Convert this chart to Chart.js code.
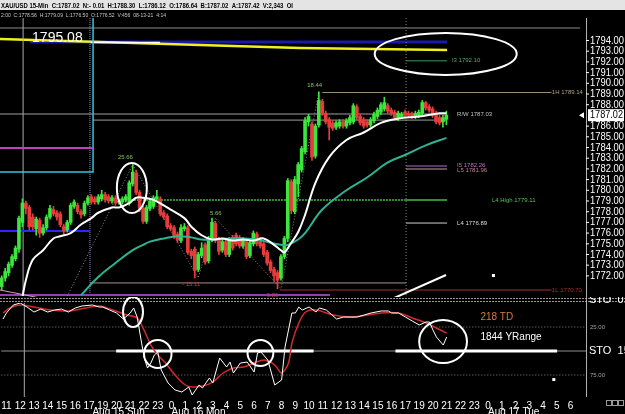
<!DOCTYPE html>
<html>
<head>
<meta charset="utf-8">
<title>XAU/USD 15-Min</title>
<script src="https://cdn.jsdelivr.net/npm/chart.js@4.4.1/dist/chart.umd.min.js"></script>
<style>
  html, body { margin: 0; padding: 0; background: #000; overflow: hidden; }
  #wrap { position: relative; width: 625px; height: 414px; background: #000; }
  #priceChart { position: absolute; left: 0; top: 0; }
  #stoChart { position: absolute; left: 0; top: 297px; }
</style>
</head>
<body>
<div id="wrap">
  <canvas id="priceChart" width="625" height="297"></canvas>
  <canvas id="stoChart" width="625" height="117"></canvas>
</div>
<script>
// ======================== 1. data ========================
// hour labels under the chart, one every 4 bars (15-min bars)
const hourLabels = ['11','12','13','14','15','16','17','19','20','21','22','23',
  '0','1','2','3','4','5','6','7','8','9','10','11','12','13','14','15','16','17',
  '19','20','21','22','23','0','1','2','3','4','5','6'];
const dateLabels = ['Aug 15 Sun', 'Aug 16 Mon', 'Aug 17 Tue'];
const dateBars = [26, 49, 141];
const barCount = 170;

// price axis tick labels (1787 is replaced by the last-price box)
const priceTicks = [1794,1793,1792,1791,1790,1789,1788,1786,1785,1784,1783,1782,
  1781,1780,1779,1778,1777,1776,1775,1774,1773,1772];
const lastPrice = 1787.02;
const stoTicks = [25, 75];

// candles
const opens = [1771.0,1771.8,1772.3,1773.0,1773.6,1774.5,1777.0,1778.8,1778.4,1777.5,
  1776.4,1777.2,1776.0,1776.5,1777.5,1778.2,1777.9,1777.8,1776.6,1776.3,
  1777.0,1778.5,1778.6,1778.0,1777.8,1778.8,1779.4,1779.2,1778.9,1779.2,
  1779.6,1779.4,1779.0,1779.3,1778.9,1778.9,1779.1,1778.8,1780.6,1781.6,
  1779.8,1778.3,1777.1,1778.3,1778.5,1779.2,1779.2,1777.9,1777.6,1776.7,
  1776.5,1775.9,1775.3,1776.4,1776.5,1774.3,1774.5,1772.6,1773.9,1774.9,
  1773.4,1775.4,1776.9,1775.4,1774.4,1775.2,1774.0,1775.6,1775.8,1775.6,
  1774.8,1775.2,1773.9,1775.0,1775.9,1775.4,1775.0,1774.2,1773.3,1772.6,
  1772.3,1771.8,1773.8,1775.5,1780.8,1778.0,1780.6,1781.9,1783.6,1786.4,
  1786.2,1783.2,1786.1,1788.3,1787.2,1786.6,1786.3,1785.9,1786.0,1786.4,
  1786.0,1786.3,1786.4,1787.8,1786.9,1786.6,1786.4,1786.1,1786.5,1786.9,
  1787.3,1787.6,1787.9,1787.5,1787.3,1786.7,1786.9,1787.3,1787.2,1787.1,
  1786.9,1787.0,1787.2,1788.2,1787.8,1787.6,1787.2,1786.8,1786.4,1786.64];
const highs = [1772.0,1772.7,1773.3,1774.0,1774.8,1777.6,1779.2,1779.0,1778.6,1777.8,
  1777.5,1777.4,1776.8,1777.7,1778.6,1778.5,1778.1,1778.0,1776.8,1777.2,
  1778.8,1779.1,1778.8,1778.2,1779.0,1779.5,1779.6,1779.4,1779.6,1780.0,
  1779.8,1779.6,1779.5,1779.5,1779.1,1779.4,1779.6,1780.9,1782.4,1781.9,
  1780.0,1778.5,1778.6,1779.2,1779.5,1780.0,1779.4,1778.1,1777.8,1776.9,
  1776.7,1776.1,1776.8,1776.9,1776.7,1774.5,1774.7,1774.2,1775.1,1775.1,
  1775.7,1777.4,1777.1,1775.6,1775.4,1775.4,1775.6,1775.8,1776.0,1775.8,
  1775.6,1775.4,1775.3,1776.2,1776.1,1775.6,1775.2,1774.4,1773.5,1772.8,
  1772.5,1774.0,1775.7,1781.1,1781.0,1781.3,1782.6,1784.1,1786.8,1787.1,
  1786.4,1786.2,1789.2,1788.5,1787.4,1786.8,1786.5,1786.5,1786.6,1786.6,
  1786.7,1787.0,1788.1,1788.0,1787.1,1786.8,1786.6,1786.8,1787.3,1787.7,
  1788.2,1788.7,1788.1,1787.7,1787.5,1787.4,1787.3,1787.5,1787.4,1787.3,
  1787.4,1787.5,1788.4,1788.3,1788.0,1787.8,1787.4,1787.0,1787.0,1787.4];
const lows = [1770.7,1771.5,1772.0,1772.8,1773.4,1774.2,1776.6,1777.8,1776.3,1776.3,
  1775.8,1775.6,1775.8,1776.3,1777.3,1777.6,1777.2,1776.6,1775.9,1776.1,
  1776.8,1778.3,1777.8,1777.4,1777.6,1778.6,1778.7,1778.7,1778.7,1779.0,
  1778.9,1778.8,1778.8,1778.6,1778.7,1778.7,1778.9,1778.6,1780.4,1779.6,
  1778.0,1776.9,1776.9,1778.1,1778.3,1779.0,1777.6,1777.3,1776.4,1776.2,
  1775.5,1775.1,1775.1,1776.2,1774.0,1773.6,1771.8,1772.4,1773.7,1773.1,
  1773.2,1775.2,1775.1,1774.0,1774.2,1773.8,1773.8,1774.4,1774.8,1774.6,
  1774.6,1773.6,1773.7,1774.8,1774.8,1774.6,1773.8,1773.0,1772.3,1771.5,
  1770.8,1771.6,1773.6,1775.2,1777.8,1777.8,1779.4,1781.7,1783.4,1786.0,
  1782.8,1783.0,1785.9,1787.0,1786.2,1784.7,1785.6,1785.7,1785.8,1785.8,
  1785.8,1786.1,1786.2,1786.6,1786.1,1785.8,1785.9,1785.9,1786.3,1786.7,
  1787.1,1787.4,1787.2,1787.0,1786.6,1786.5,1786.7,1786.8,1786.8,1786.7,
  1786.7,1786.8,1787.0,1787.5,1787.3,1786.8,1786.2,1786.1,1785.9,1786.12];
const closes = [1771.8,1772.4,1773.1,1773.8,1774.6,1777.4,1778.8,1778.3,1776.6,1776.6,
  1777.3,1776.0,1776.5,1777.5,1778.3,1777.8,1777.5,1776.8,1776.2,1777.0,
  1778.6,1778.9,1778.0,1777.7,1778.8,1779.3,1778.9,1778.9,1779.4,1779.6,
  1779.1,1779.0,1779.3,1778.8,1778.9,1779.2,1779.4,1780.7,1781.7,1779.8,
  1778.3,1777.1,1778.4,1779.0,1779.3,1779.4,1777.8,1777.5,1776.6,1776.4,
  1775.8,1775.4,1776.5,1776.6,1774.2,1773.9,1772.5,1774.0,1774.6,1773.3,
  1775.5,1777.0,1775.3,1774.3,1775.2,1774.0,1775.4,1774.6,1775.0,1774.8,
  1775.4,1773.8,1775.1,1776.0,1775.0,1774.8,1774.0,1773.2,1772.5,1772.0,
  1771.6,1773.8,1775.5,1780.9,1778.1,1781.0,1782.4,1783.9,1786.5,1786.9,
  1783.1,1786.0,1788.4,1787.2,1786.4,1785.9,1785.8,1786.3,1786.4,1786.0,
  1786.5,1786.8,1787.9,1786.8,1786.3,1786.0,1786.1,1786.6,1787.1,1787.5,
  1788.0,1788.2,1787.4,1787.2,1786.8,1787.2,1787.1,1787.0,1787.0,1786.9,
  1787.2,1787.3,1788.2,1787.7,1787.5,1787.0,1786.4,1786.3,1786.8,1787.02];

// moving averages, read at sample bars
const fastMaBars = [6,7,9,12,15,17,20,23,26,28,32,34,37,39,41,44,49,53,55,58,61,64,67,70,73,76,79,81,82,84,86,88,91,95,100,105,110,115,121,127,129];
const fastMaVals = [1770.0,1771.6,1773.5,1774.4,1775.5,1775.7,1776.0,1776.8,1777.4,1777.9,1778.4,1778.4,1778.8,1779.3,1779.3,1779.1,1778.2,1777.4,1776.6,1775.8,1775.4,1775.5,1775.3,1775.4,1775.3,1775.5,1774.9,1774.4,1774.2,1775.1,1776.1,1777.7,1780.7,1783.1,1784.7,1785.4,1786.3,1786.7,1786.9,1787.2,1787.2];
const slowMaBars = [23,28,33,38,41,43,47,51,55,58,62,66,70,74,78,81,83,86,88,93,100,106,112,117,123,129];
const slowMaVals = [1770.2,1771.9,1773.2,1774.4,1774.9,1775.2,1775.5,1775.7,1775.6,1775.4,1775.4,1775.5,1775.5,1775.4,1775.1,1774.9,1774.9,1775.4,1776.0,1778.2,1780.0,1781.2,1782.6,1783.3,1784.2,1784.9];

// zigzag swing points and their labels
const zigBars = [19, 38, 57, 62, 81, 92];
const zigVals = [1770.1, 1782.4, 1771.8, 1777.4, 1770.8, 1789.2];

// stochastic %K (white) and %D (red)
const kBars = [0,1,3,5,7,9,11,13,15,17,19,21,23,26,28,29,31,33,35,37,38,39,40,41,42,43,44,45,46,48,50,52,54,55,57,58,60,61,63,65,66,67,69,71,73,74,75,77,79,81,82,84,85,86,87,89,91,92,94,95,97,99,101,103,105,107,110,112,113,115,117,119,121,123,124,125,126,128,129];
const kVals = [16.7,10.4,2.1,0,4.2,9.4,6.3,9.4,7.3,6.3,9.4,5.2,3.1,2.1,4.2,4.2,7.3,10.4,16.7,10.4,5.2,14.6,35.4,56.3,67.7,62.5,54.2,51.0,69.8,83.3,90.6,92.7,87.5,95.8,85.4,88.5,78.1,83.3,57.3,66.7,61.5,72.9,62.5,61.5,71.9,52.1,51.0,59.4,85.4,80.2,45.8,10.4,10.4,4.2,7.3,4.2,9.4,5.2,7.3,10.4,16.7,14.6,14.6,14.6,12.5,10.4,8.3,8.3,10.4,10.4,14.6,18.8,22.9,19.8,19.8,28.1,35.4,43.8,35.4];
const dBars = [0,2,5,9,14,19,24,28,32,36,39,41,43,45,47,50,53,55,58,61,64,67,70,73,76,79,81,83,84,86,88,91,96,101,106,110,115,119,123,126,129];
const dVals = [10.4,5.2,2.1,4.2,7.3,8.3,5.2,3.1,7.3,12.5,15.6,28.1,43.8,54.2,61.5,75.0,85.4,87.5,86.5,82.3,72.9,67.7,66.7,62.5,59.4,64.6,72.9,62.5,41.7,20.8,9.4,7.3,12.5,14.6,12.5,10.4,10.4,15.6,20.8,26.0,31.3];

// ======================== 2. look ========================
const FONT = '"Liberation Sans", Arial, sans-serif';
const UP = '#3ce63c';
const DOWN = '#e63c3c';
const headerText = 'XAU/USD 15-Min  C:1787.02  N:- 0.01  H:1788.30  L:1786.12  O:1786.64  B:1787.02  A:1787.42  V:2,343  OI';
const subHeaderText = '2:00  C:1778.56  H:1779.09  L:1776.50  O:1776.52  V:456  08-13-21  4:14';

const barLabels = [];
for (let i = 0; i < barCount; i++) {
  const k = (i - 1) / 4;
  barLabels.push(Number.isInteger(k) && k < hourLabels.length ? hourLabels[k] : '');
}
const pts = (bars, vals) => bars.map((b, i) => ({ x: b, y: vals[i] }));

// drawn lines on the price pane: [bar, price] points
const TOP = 1796.1, BOT = 1770.12;
const priceLines = [
  { pts: [[-0.5, 1795.17], [167.8, 1795.17]], color: '#8a8a8a', width: 1 },
  { pts: [[8.2, 1793.86], [129.2, 1793.86]], color: '#1a1aa8', width: 3 },
  { pts: [[-0.5, 1794.14], [86.5, 1793.30], [129.2, 1793.11]], color: '#f0f020', width: 2.5 },
  { pts: [[25.6, 1793.81], [45.9, 1793.81]], color: '#ffffff', width: 1.5 },
  { pts: [[26.5, TOP], [26.5, 1781.71], [-0.5, 1781.71]], color: '#30c8d8', width: 1.5 },
  { pts: [[25.6, TOP], [25.6, BOT]], color: '#9090e0', width: 1, dash: [1, 1] },
  { pts: [[6.2, TOP], [6.2, BOT]], color: '#aaaaaa', width: 1 },
  { pts: [[117.3, TOP], [117.3, BOT]], color: '#888888', width: 1, dash: [1, 2] },
  { pts: [[-0.5, 1787.13], [129.2, 1787.13]], color: '#a0a0a0', width: 1 },
  { pts: [[26.5, 1786.56], [129.2, 1786.56]], color: '#a0a0a0', width: 1 },
  { pts: [[-0.5, 1783.95], [26.5, 1783.95]], color: '#c040c0', width: 2 },
  { pts: [[-0.5, 1776.2], [25.6, 1776.2]], color: '#2828ff', width: 2 },
  { pts: [[34, 1779.09], [117.3, 1779.09]], color: '#40c040', width: 1.5, dash: [2, 1] },
  { pts: [[117.3, 1779.09], [129.2, 1779.09]], color: '#40c040', width: 1.5 },
  { pts: [[117.3, 1792.10], [129.2, 1792.10]], color: '#3d9a60', width: 1 },
  { pts: [[93, 1789.14], [159.5, 1789.14]], color: '#9c8c74', width: 1 },
  { pts: [[117.3, 1782.27], [129.2, 1782.27]], color: '#b070c0', width: 1 },
  { pts: [[117.3, 1781.99], [129.2, 1781.99]], color: '#c0a0a0', width: 1 },
  { pts: [[117.3, 1776.94], [129.2, 1776.94]], color: '#d0d0d0', width: 1 },
  { pts: [[25.6, 1771.34], [117.3, 1771.34]], color: '#a89090', width: 1 },
  { pts: [[80.7, 1770.68], [159.5, 1770.68]], color: '#a03030', width: 1 },
  { pts: [[-0.5, 1770.21], [95.2, 1770.21]], color: '#9040b0', width: 2 },
  { pts: [[-0.5, 1770.68], [14, 1769.75]], color: '#d8a0a0', width: 1 },
  { pts: [[113.2, 1769.84], [128.9, 1772.08]], color: '#ffffff', width: 2 }
];
const priceEllipses = [[108.2, 1794.70, 149.4, 1790.78], [33.4, 1782.55, 42.1, 1777.88]];
const priceNotes = [
  { text: '1795.08', at: [8.8, 1793.86], color: '#ffffff', size: 14, base: 'alphabetic' },
  { text: '25.66', at: [33.7, 1783.11], color: '#80c060', size: 6 },
  { text: '5.66', at: [60.4, 1777.88], color: '#80c060', size: 6 },
  { text: '- 15.11', at: [52.3, 1771.25], color: '#c04040', size: 6 },
  { text: '- 9.86', at: [75.8, 1770.21], color: '#c04040', size: 6 },
  { text: '18.44', at: [88.6, 1789.84], color: '#80c060', size: 6 },
  { text: 'I3 1792.10', at: [130.6, 1792.18], color: '#5aaa6a', size: 6 },
  { text: '1H 1789.14', at: [159.6, 1789.19], color: '#b0a080', size: 6 },
  { text: 'R/W 1787.03', at: [132.1, 1787.13], color: '#c0c0c0', size: 6 },
  { text: 'I5 1782.26', at: [132.1, 1782.35], color: '#c070c0', size: 6 },
  { text: 'L5 1781.96', at: [132.1, 1781.90], color: '#c08090', size: 6 },
  { text: 'L4 High 1779.11', at: [142.2, 1779.09], color: '#5ac05a', size: 6 },
  { text: 'L4 1776.89', at: [132.1, 1776.94], color: '#dddddd', size: 6 },
  { text: '1L 1770.70', at: [159.6, 1770.68], color: '#b03030', size: 6 }
];
const priceDots = [[142.5, 1772.08]];

const stoEllipses = [[34.9, -6.3, 40.7, 25], [41, 38.5, 49, 67.7], [71.1, 38.5, 78.6, 65.6], [121, 17.7, 134.9, 62.5]];
const stoBars = [[32.9, 90.3], [114.1, 161.1]];

// ======================== 3. drawing helpers ========================
function strokePath(ctx, xs, ys, line) {
  ctx.save();
  ctx.strokeStyle = line.color;
  ctx.lineWidth = line.width || 1;
  ctx.setLineDash(line.dash || []);
  ctx.beginPath();
  line.pts.forEach((p, k) => {
    const x = xs.getPixelForValue(p[0]), y = ys.getPixelForValue(p[1]);
    if (k) ctx.lineTo(x, y); else ctx.moveTo(x, y);
  });
  ctx.stroke();
  ctx.restore();
}
function strokeEllipse(ctx, xs, ys, b) {
  const x1 = xs.getPixelForValue(b[0]), y1 = ys.getPixelForValue(b[1]);
  const x2 = xs.getPixelForValue(b[2]), y2 = ys.getPixelForValue(b[3]);
  ctx.beginPath();
  ctx.ellipse((x1 + x2) / 2, (y1 + y2) / 2, Math.abs(x2 - x1) / 2, Math.abs(y2 - y1) / 2, 0, 0, Math.PI * 2);
  ctx.stroke();
}

const priceDecor = {
  id: 'priceDecor',
  beforeDraw(chart) {
    const ctx = chart.ctx;
    ctx.save();
    ctx.fillStyle = '#000';
    ctx.fillRect(0, 0, chart.width, chart.height);
    ctx.fillStyle = '#e4e4e4';
    ctx.fillRect(0, 0, chart.width, 10);
    ctx.fillStyle = '#000';
    ctx.font = 'bold 7px ' + FONT;
    ctx.textBaseline = 'alphabetic';
    ctx.fillText(headerText, 1, 8, 292);
    ctx.fillStyle = '#c8c8c8';
    ctx.font = '6px ' + FONT;
    ctx.fillText(subHeaderText, 1, 17, 165);
    ctx.restore();
  },
  beforeDatasetsDraw(chart) {
    const { ctx, scales } = chart;
    priceLines.forEach(l => strokePath(ctx, scales.xl, scales.y, l));
  },
  afterDatasetsDraw(chart) {
    const { ctx, scales, chartArea } = chart;
    const xs = scales.xl, ys = scales.y;
    ctx.save();
    ctx.strokeStyle = '#ffffff';
    ctx.lineWidth = 2;
    priceEllipses.forEach(b => strokeEllipse(ctx, xs, ys, b));
    ctx.fillStyle = '#ffffff';
    priceDots.forEach(d => ctx.fillRect(xs.getPixelForValue(d[0]) - 1, ys.getPixelForValue(d[1]) - 1, 3, 3));
    priceNotes.forEach(n => {
      ctx.fillStyle = n.color;
      ctx.font = n.size + 'px ' + FONT;
      ctx.textBaseline = n.base || 'middle';
      ctx.textAlign = 'left';
      ctx.fillText(n.text, xs.getPixelForValue(n.at[0]), ys.getPixelForValue(n.at[1]));
    });
    // right price axis
    const ax = chartArea.right;
    ctx.strokeStyle = '#b0b0b0';
    ctx.lineWidth = 1;
    ctx.beginPath();
    ctx.moveTo(ax + 0.5, 18);
    ctx.lineTo(ax + 0.5, chart.height);
    ctx.stroke();
    ctx.font = '11px ' + FONT;
    ctx.textBaseline = 'middle';
    priceTicks.forEach(v => {
      const y = ys.getPixelForValue(v);
      ctx.strokeStyle = '#ffffff';
      ctx.beginPath();
      ctx.moveTo(ax, y);
      ctx.lineTo(ax + 3, y);
      ctx.stroke();
      ctx.fillStyle = '#ffffff';
      ctx.fillText(v.toFixed(2), ax + 4, y, 34);
    });
    const py = ys.getPixelForValue(lastPrice);
    ctx.fillStyle = '#ffffff';
    ctx.fillRect(ax + 2, py - 6, 36, 12);
    ctx.fillStyle = '#000000';
    ctx.fillText(lastPrice.toFixed(2), ax + 4, py, 33);
    ctx.fillStyle = '#ffffff';
    ctx.beginPath();
    ctx.moveTo(ax - 7, py);
    ctx.lineTo(ax - 2, py - 3);
    ctx.lineTo(ax - 2, py + 3);
    ctx.closePath();
    ctx.fill();
    ctx.restore();
  }
};

const stoDecor = {
  id: 'stoDecor',
  beforeDraw(chart) {
    const ctx = chart.ctx;
    ctx.save();
    ctx.fillStyle = '#000';
    ctx.fillRect(0, 0, chart.width, chart.height);
    ctx.restore();
  },
  beforeDatasetsDraw(chart) {
    const { ctx, scales } = chart;
    const xs = scales.xl, ys = scales.y;
    // pane separator
    ctx.save();
    ctx.strokeStyle = '#9a9a9a';
    ctx.lineWidth = 1;
    ctx.setLineDash([2, 1]);
    [1.5, 4.5].forEach(y => {
      ctx.beginPath();
      ctx.moveTo(0, y);
      ctx.lineTo(chart.width, y);
      ctx.stroke();
    });
    ctx.restore();
    stoTicks.forEach(v => strokePath(ctx, xs, ys, { pts: [[-0.5, v], [169.5, v]], color: '#808080', width: 1, dash: [1, 2] }));
    strokePath(ctx, xs, ys, { pts: [[-0.5, 50], [169.5, 50]], color: '#909090', width: 1 });
    strokePath(ctx, xs, ys, { pts: [[6.2, 0], [6.2, 97.9]], color: '#aaaaaa', width: 1 });
    stoBars.forEach(b => strokePath(ctx, xs, ys, { pts: [[b[0], 50], [b[1], 50]], color: '#ffffff', width: 3 }));
  },
  afterDatasetsDraw(chart) {
    const { ctx, scales, chartArea } = chart;
    const xs = scales.xl, ys = scales.y;
    const ax = chartArea.right;
    ctx.save();
    ctx.strokeStyle = '#ffffff';
    ctx.lineWidth = 2;
    stoEllipses.forEach(b => strokeEllipse(ctx, xs, ys, b));
    ctx.fillStyle = '#ffffff';
    ctx.fillRect(xs.getPixelForValue(160) - 1, ys.getPixelForValue(79.2) - 1, 3, 3);
    ctx.font = '10px ' + FONT;
    ctx.textBaseline = 'middle';
    ctx.fillStyle = '#e07840';
    ctx.fillText('218 TD', xs.getPixelForValue(138.8), ys.getPixelForValue(14.6));
    ctx.fillStyle = '#ffffff';
    ctx.fillText('1844 YRange', xs.getPixelForValue(138.8), ys.getPixelForValue(35.4));
    // right axis
    ctx.strokeStyle = '#b0b0b0';
    ctx.lineWidth = 1;
    ctx.beginPath();
    ctx.moveTo(ax + 0.5, 0);
    ctx.lineTo(ax + 0.5, chartArea.bottom);
    ctx.stroke();
    ctx.fillStyle = '#a0a0a0';
    ctx.font = '6px ' + FONT;
    stoTicks.forEach(v => ctx.fillText(v.toFixed(2), ax + 4, ys.getPixelForValue(v)));
    ctx.fillStyle = '#ffffff';
    ctx.font = '11px ' + FONT;
    ctx.fillText('STO  15,', ax + 3, ys.getPixelForValue(50));
    ctx.fillText('STO  0.2', ax + 3, 3);
    // date captions
    ctx.font = '10px ' + FONT;
    ctx.textBaseline = 'top';
    dateLabels.forEach((t, i) => ctx.fillText(t, xs.getPixelForValue(dateBars[i]), 110));
    // scroll squares
    ctx.strokeStyle = '#9a9a9a';
    for (let k = 0; k < 3; k++) ctx.strokeRect(606.5 + k * 6, 103.5, 5, 5);
    ctx.restore();
  }
};

// ======================== 4. charts ========================
const fitWidth = s => { s.width = 39; };
const hiddenLinearX = { type: 'linear', display: false, min: -0.5, max: barCount - 0.5, offset: false };

new Chart(document.getElementById('priceChart'), {
  type: 'bar',
  data: {
    labels: barLabels,
    datasets: [
      {
        label: 'wick',
        data: lows.map((l, i) => [l, highs[i]]),
        backgroundColor: c => closes[c.dataIndex] >= opens[c.dataIndex] ? UP : DOWN,
        barThickness: 1,
        grouped: false,
        order: 4
      },
      {
        label: 'body',
        data: opens.map((o, i) => [o, closes[i]]),
        backgroundColor: c => closes[c.dataIndex] >= opens[c.dataIndex] ? UP : DOWN,
        barThickness: 3,
        minBarLength: 1,
        grouped: false,
        order: 3
      },
      {
        type: 'line', label: 'zigzag', xAxisID: 'xl',
        data: pts(zigBars, zigVals),
        borderColor: '#8c8c8c', borderWidth: 1, borderDash: [1, 2],
        pointRadius: 0, tension: 0, order: 5
      },
      {
        type: 'line', label: 'slow MA', xAxisID: 'xl',
        data: pts(slowMaBars, slowMaVals),
        borderColor: '#2cb494', borderWidth: 2, pointRadius: 0, tension: 0.4, order: 2
      },
      {
        type: 'line', label: 'fast MA', xAxisID: 'xl',
        data: pts(fastMaBars, fastMaVals),
        borderColor: '#ffffff', borderWidth: 2, pointRadius: 0, tension: 0.4, order: 1
      }
    ]
  },
  options: {
    responsive: false,
    animation: false,
    events: [],
    layout: { padding: { top: 22, bottom: 1, left: 0, right: 0 }, autoPadding: false },
    plugins: { legend: { display: false }, tooltip: { enabled: false } },
    scales: {
      x: { type: 'category', display: false, offset: true },
      xl: hiddenLinearX,
      y: {
        position: 'right', min: 1770.12, max: 1795.73,
        ticks: { display: false }, grid: { display: false }, border: { display: false },
        afterFit: fitWidth
      }
    }
  },
  plugins: [priceDecor]
});

new Chart(document.getElementById('stoChart'), {
  type: 'line',
  data: {
    labels: barLabels,
    datasets: [
      {
        label: '%D', xAxisID: 'xl', data: pts(dBars, dVals),
        borderColor: '#d42a2a', borderWidth: 1.5, pointRadius: 0, tension: 0.3, order: 2
      },
      {
        label: '%K', xAxisID: 'xl', data: pts(kBars, kVals),
        borderColor: '#ffffff', borderWidth: 1, pointRadius: 0, tension: 0, order: 1
      }
    ]
  },
  options: {
    responsive: false,
    animation: false,
    events: [],
    layout: { padding: { top: 6, bottom: 0, left: 0, right: 0 }, autoPadding: false },
    plugins: { legend: { display: false }, tooltip: { enabled: false } },
    scales: {
      x: {
        type: 'category', offset: true,
        grid: { display: false, drawTicks: false }, border: { display: false },
        ticks: { color: '#ffffff', font: { family: FONT, size: 10 }, autoSkip: false, maxRotation: 0, minRotation: 0, padding: 3 },
        afterFit: s => { s.height = 17; }
      },
      xl: hiddenLinearX,
      y: {
        position: 'right', reverse: true, min: 0, max: 97.9,
        ticks: { display: false }, grid: { display: false }, border: { display: false },
        afterFit: fitWidth
      }
    }
  },
  plugins: [stoDecor]
});
</script>
</body>
</html>
